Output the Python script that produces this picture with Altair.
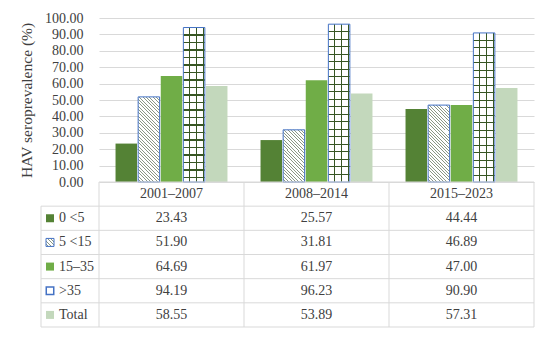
import altair as alt
import pandas as pd

periods = ["2001–2007", "2008–2014", "2015–2023"]
groups = ["0 <5", "5 <15", "15–35", ">35", "Total"]
v_0_5 = [23.43, 25.57, 44.44]
v_5_15 = [51.90, 31.81, 46.89]
v_15_35 = [64.69, 61.97, 47.00]
v_35 = [94.19, 96.23, 90.90]
v_total = [58.55, 53.89, 57.31]
y_ticks = [0, 10, 20, 30, 40, 50, 60, 70, 80, 90, 100]

FONT = "Liberation Serif"
TXT = "#404040"
GRID = "#d9d9d9"
BLUE = "#4472C4"
W, H, TH = 435, 164, 145
BAR_W = 21.6

fills = ["#548235", "#ffffff", "#70AD47", "#ffffff", "#C3D8BC"]

rows = []
for g, vals in zip(groups, [v_0_5, v_5_15, v_15_35, v_35, v_total]):
    for p, v in zip(periods, vals):
        rows.append({"period": p, "group": g, "value": v, "label": f"{v:.2f}"})
df = pd.DataFrame(rows)
hdr = pd.DataFrame({"period": periods, "row": ["hdr"] * 3})
lab = pd.DataFrame({"group": groups})


def hatch(h, w, period=3.3, line=0.3, color="#8a9883"):
    r = h / w
    a = (1 + r) / (1 + r * r)
    n = max(1, round((w + h) / period))
    stops = []
    for k in range(n):
        s0, s1, s2 = k / n, (k + 1 - line) / n, (k + 1) / n
        stops += [{"offset": s0, "color": "#ffffff"}, {"offset": s1, "color": "#ffffff"},
                  {"offset": s1, "color": color}, {"offset": s2, "color": color}]
    return {"gradient": "linear", "x1": 0, "y1": 1, "x2": a, "y2": 1 - a * r, "stops": stops}


CLEAR = "rgba(0,0,0,0)"
DARK = "#375623"


def vlines():
    stops = [{"offset": 0, "color": CLEAR}]
    for c in [0.27, 0.61, 0.95]:
        stops += [{"offset": c - 0.024, "color": CLEAR}, {"offset": c - 0.024, "color": DARK},
                  {"offset": c + 0.024, "color": DARK}, {"offset": c + 0.024, "color": CLEAR}]
    stops.append({"offset": 1, "color": CLEAR})
    return {"gradient": "linear", "x1": 0, "y1": 0, "x2": 1, "y2": 0, "stops": stops}


def hlines(h, step=7.5):
    stops = [{"offset": 0, "color": CLEAR}]
    y = step
    while y < h - 1:
        a, b = (y - 0.55) / h, (y + 0.55) / h
        stops += [{"offset": a, "color": CLEAR}, {"offset": a, "color": DARK},
                  {"offset": b, "color": DARK}, {"offset": b, "color": CLEAR}]
        y += step
    stops.append({"offset": 1, "color": CLEAR})
    return {"gradient": "linear", "x1": 0, "y1": 0, "x2": 0, "y2": 1, "stops": stops}


x_enc = alt.X("period:N", sort=periods,
              scale=alt.Scale(domain=periods, paddingInner=0.228, paddingOuter=0.114), axis=None)
xo_enc = alt.XOffset("group:N", sort=groups,
                     scale=alt.Scale(domain=groups, paddingInner=0.05, paddingOuter=0))
y_enc = alt.Y("value:Q", scale=alt.Scale(domain=[0, 100], nice=False),
              axis=alt.Axis(values=y_ticks, format=".2f", title="HAV seroprevalence (%)",
                            grid=True, gridColor=GRID, domain=False, ticks=False,
                            labelPadding=16, titlePadding=10))

base = alt.Chart(df).encode(x=x_enc, xOffset=xo_enc, y=y_enc)
layers = [base.mark_bar().encode(
    color=alt.Color("group:N", scale=alt.Scale(domain=groups, range=fills), legend=None))]

for p, v in zip(periods, v_5_15):
    layers.append(base.transform_filter(
        (alt.datum.group == "5 <15") & (alt.datum.period == p)
    ).mark_bar(fill=hatch(v / 100 * H, BAR_W), stroke=BLUE, strokeWidth=1))
for p, v in zip(periods, v_35):
    sel = base.transform_filter((alt.datum.group == ">35") & (alt.datum.period == p))
    layers.append(sel.mark_bar(fill=vlines()))
    layers.append(sel.mark_bar(fill=hlines(v / 100 * H), stroke=BLUE, strokeWidth=1))

top = alt.layer(*layers).properties(width=W, height=H)

# table
row_dom = ["hdr"] + groups
tx = alt.X("period:N", sort=periods, scale=alt.Scale(domain=periods, paddingInner=0, paddingOuter=0), axis=None)
ty_scale = alt.Scale(domain=row_dom, paddingInner=0, paddingOuter=0)
txt = dict(font=FONT, fontSize=14, color=TXT, baseline="middle")

hdr_text = alt.Chart(hdr).mark_text(**txt).encode(
    x=tx, y=alt.Y("row:N", scale=ty_scale, axis=None), text="period:N")
val_text = alt.Chart(df).mark_text(**txt).encode(
    x=tx, y=alt.Y("group:N", scale=ty_scale, axis=None), text="label:N")
lab_text = alt.Chart(lab).mark_text(align="left", **txt).encode(
    x=alt.value(-40), y=alt.Y("group:N", scale=ty_scale, axis=None), text="group:N")

solid = ["0 <5", "15–35", "Total"]
sym_solid = alt.Chart(lab).transform_filter(
    alt.FieldOneOfPredicate(field="group", oneOf=solid)
).mark_square(size=64, opacity=1).encode(
    x=alt.value(-49), y=alt.Y("group:N", scale=ty_scale, axis=None),
    fill=alt.Fill("group:N", scale=alt.Scale(domain=groups, range=fills), legend=None))
sym_hatch = alt.Chart(lab).transform_filter(alt.datum.group == "5 <15").mark_square(
    size=64, opacity=1, fill=hatch(8, 8, period=3.4, line=0.35), stroke=BLUE, strokeWidth=1
).encode(x=alt.value(-49), y=alt.Y("group:N", scale=ty_scale, axis=None))
sym_grid = alt.Chart(lab).transform_filter(alt.datum.group == ">35").mark_square(
    size=56, opacity=1, fill="#ffffff", stroke=BLUE, strokeWidth=1.5
).encode(x=alt.value(-49), y=alt.Y("group:N", scale=ty_scale, axis=None))

rule_style = dict(color=GRID, strokeWidth=1)
vrules = alt.Chart(hdr).mark_rule(**rule_style).encode(
    x=alt.X("period:N", sort=periods, scale=alt.Scale(domain=periods, paddingInner=0, paddingOuter=0),
            axis=None, bandPosition=0),
    y=alt.value(0), y2=alt.value(TH))
hrules = alt.Chart(lab).mark_rule(**rule_style).encode(
    y=alt.Y("group:N", scale=ty_scale, axis=None, bandPosition=0),
    x=alt.value(-58), x2=alt.value(W))
edge = pd.DataFrame({"k": [0]})
top_line = alt.Chart(edge).mark_rule(**rule_style).encode(x=alt.value(0), x2=alt.value(W), y=alt.value(0))
bottom_line = alt.Chart(edge).mark_rule(**rule_style).encode(x=alt.value(-58), x2=alt.value(W), y=alt.value(TH))
right_line = alt.Chart(edge).mark_rule(**rule_style).encode(x=alt.value(W), y=alt.value(0), y2=alt.value(TH))
left_line = alt.Chart(edge).mark_rule(**rule_style).encode(x=alt.value(-58), y=alt.value(TH / 6), y2=alt.value(TH))

table = alt.layer(vrules, hrules, top_line, bottom_line, right_line, left_line,
                  hdr_text, val_text, lab_text, sym_solid, sym_hatch, sym_grid
                  ).properties(width=W, height=TH)

chart = alt.vconcat(top, table, spacing=0, bounds="flush").configure_view(stroke=None).configure_axis(
    labelFont=FONT, labelFontSize=14, labelColor=TXT,
    titleFont=FONT, titleFontSize=15.5, titleColor=TXT, titleFontWeight="normal"
).properties(padding={"left": 11, "top": 3, "right": 5, "bottom": 5})

chart.save("out.html", embed_options={"renderer": "svg", "actions": False})
